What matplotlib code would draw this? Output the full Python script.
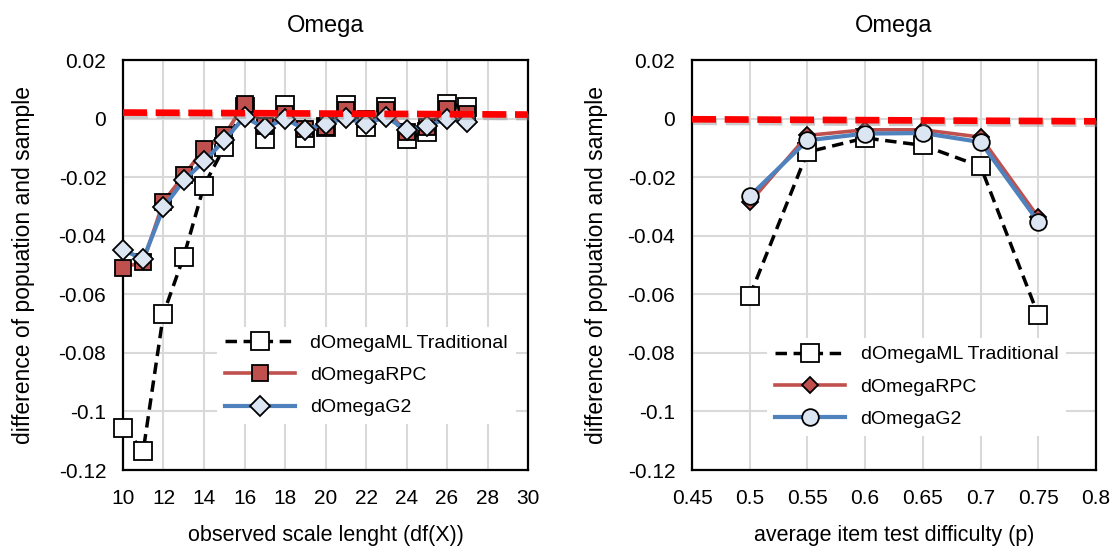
import matplotlib
matplotlib.use('Agg')
import matplotlib.pyplot as plt
import matplotlib.patheffects as pe
import numpy as np

plt.rcParams['font.family'] = ['Liberation Sans', 'DejaVu Sans']
plt.rcParams['axes.unicode_minus'] = False

# left panel: observed scale length
scale_len = [10, 11, 12, 13, 14, 15, 16, 17, 18, 19, 20, 21, 22, 23, 24, 25, 26, 27]
trad_len = [-0.1055, -0.1134, -0.0666, -0.0471, -0.0229, -0.0097, 0.0040, -0.0069, 0.0046,
            -0.0066, -0.0030, 0.0048, -0.0030, 0.0040, -0.0069, -0.0046, 0.0051, 0.0040]
rpc_len = [-0.0509, -0.0489, -0.0283, -0.0194, -0.0103, -0.0057, 0.0051, -0.0025, 0.0017,
           -0.0034, -0.0029, 0.0029, 0.0000, 0.0029, -0.0046, -0.0029, 0.0034, 0.0017]
g2_len = [-0.0448, -0.0480, -0.0303, -0.0211, -0.0146, -0.0074, 0.0006, -0.0032, 0.0000,
          -0.0037, -0.0017, 0.0002, -0.0017, 0.0006, -0.0040, -0.0025, 0.0000, -0.0011]

# right panel: item difficulty
difficulty = [0.5, 0.55, 0.6, 0.65, 0.7, 0.75]
trad_p = [-0.0606, -0.0114, -0.0066, -0.0091, -0.0163, -0.0672]
rpc_p = [-0.0286, -0.0057, -0.0038, -0.0038, -0.0063, -0.0337]
g2_p = [-0.0265, -0.0074, -0.0051, -0.0049, -0.0080, -0.0352]

# hand drawn red reference lines (value at left / right edge)
ref_left = [0.0021, 0.0014]
ref_right = [-0.0002, -0.0009]

y_ticks = [0.02, 0, -0.02, -0.04, -0.06, -0.08, -0.1, -0.12]
x_ticks_left = [10, 12, 14, 16, 18, 20, 22, 24, 26, 28, 30]
x_ticks_right = [0.45, 0.5, 0.55, 0.6, 0.65, 0.7, 0.75, 0.8]

RED = '#c0504d'
BLUE = '#4f81bd'
LIGHT = '#dce6f2'


def fmt(v):
    s = '%g' % round(v, 4)
    if s == '-0':
        s = '0'
    return s


def setup(ax, xticks, xlabel):
    ax.set_xlim(xticks[0], xticks[-1])
    ax.set_ylim(-0.12, 0.02)
    ax.set_xticks(xticks)
    ax.set_xticklabels([fmt(v) for v in xticks])
    ax.set_yticks(y_ticks)
    ax.set_yticklabels([fmt(v) for v in y_ticks])
    ax.tick_params(length=0, labelsize=15, pad=12)
    ax.tick_params(axis='x', pad=14)
    ax.grid(True, color='#d9d9d9', lw=1.5)
    ax.set_axisbelow(True)
    for s in ax.spines.values():
        s.set_linewidth(1.6)
        s.set_color('black')
    ax.set_title('Omega', fontsize=17, pad=20)
    ax.set_xlabel(xlabel, fontsize=15.5, labelpad=12)
    ax.set_ylabel('difference of popuation and sample', fontsize=16.5)


def ref_line(ax, xticks, vals):
    ax.plot([xticks[0], xticks[-1]], vals, color='#ff0000', lw=4.8,
            dashes=(3.6, 1.3), zorder=10, clip_on=False,
            path_effects=[pe.SimpleLineShadow(offset=(0.8, -1.8), shadow_color='#8c8c8c', alpha=0.45),
                          pe.Normal()])


fig = plt.figure(figsize=(11.14, 5.48), dpi=100)
ax1 = fig.add_axes([0.1104, 0.1423, 0.3636, 0.748])
ax2 = fig.add_axes([0.6212, 0.1423, 0.3627, 0.748])

# left
setup(ax1, x_ticks_left, 'observed scale lenght (df(X))')
ax1.plot(scale_len, trad_len, color='black', lw=2.5, dashes=(3.3, 1.9),
         marker='s', ms=12.5, mfc='white', mec='black', mew=1.3,
         label='dOmegaML Traditional', zorder=3, clip_on=False)
ax1.plot(scale_len, rpc_len, color=RED, lw=2.6,
         marker='s', ms=12, mfc=RED, mec='black', mew=1.3,
         label='dOmegaRPC', zorder=4, clip_on=False)
ax1.plot(scale_len, g2_len, color=BLUE, lw=3,
         marker='D', ms=10, mfc=LIGHT, mec='black', mew=1.3,
         label='dOmegaG2', zorder=5, clip_on=False)
ref_line(ax1, x_ticks_left, ref_left)
ax1.yaxis.set_label_coords(-0.218, 0.5)
ax1.legend(loc='upper left', bbox_to_anchor=(0.232, 0.35), borderaxespad=0,
           fontsize=14, handlelength=3.6, labelspacing=0.75, frameon=True,
           fancybox=False, framealpha=1, edgecolor='none', facecolor='white')

# right
setup(ax2, x_ticks_right, 'average item test difficulty (p)')
ax2.plot(difficulty, trad_p, color='black', lw=2.5, dashes=(3.3, 1.9),
         marker='s', ms=12.5, mfc='white', mec='black', mew=1.3,
         label='dOmegaML Traditional', zorder=3, clip_on=False)
ax2.plot(difficulty, rpc_p, color=RED, lw=2.6,
         marker='D', ms=8.5, mfc=RED, mec='black', mew=1.3,
         label='dOmegaRPC', zorder=4, clip_on=False)
ax2.plot(difficulty, g2_p, color=BLUE, lw=3,
         marker='o', ms=12, mfc=LIGHT, mec='black', mew=1.3,
         label='dOmegaG2', zorder=5, clip_on=False)
ref_line(ax2, x_ticks_right, ref_right)
ax2.yaxis.set_label_coords(-0.208, 0.5)
ax2.legend(loc='upper left', bbox_to_anchor=(0.186, 0.322), borderaxespad=0,
           fontsize=14, handlelength=3.6, labelspacing=0.75, frameon=True,
           fancybox=False, framealpha=1, edgecolor='none', facecolor='white')

fig.savefig('out.png', dpi=100)
